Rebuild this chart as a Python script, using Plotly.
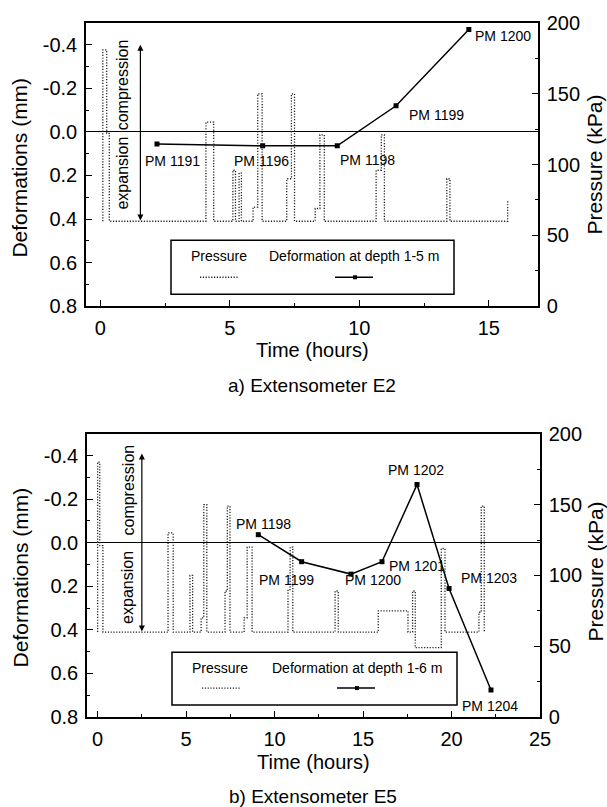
import plotly.graph_objects as go

# ---------------- data ----------------
# Top chart (Extensometer E2)
top_press_t = [0.1, 0.1, 0.25, 0.25, 0.35, 0.35, 4.08, 4.08, 4.38, 4.38,
               5.12, 5.12, 5.22, 5.22, 5.36, 5.36, 5.45, 5.45,
               5.9, 5.9, 6.08, 6.08, 6.25, 6.25,
               7.2, 7.2, 7.38, 7.38, 7.5, 7.5,
               8.3, 8.3, 8.48, 8.48, 8.65, 8.65,
               10.65, 10.65, 10.85, 10.85, 10.97, 10.97,
               13.38, 13.38, 13.5, 13.5, 15.73, 15.73]
top_press_p = [60, 181, 181, 122, 122, 60, 60, 130, 130, 60,
               60, 96, 96, 60, 60, 94, 94, 60,
               60, 70, 70, 150, 150, 60,
               60, 90, 90, 150, 150, 60,
               60, 69, 69, 121, 121, 60,
               60, 96, 96, 121, 121, 60,
               60, 90, 90, 60, 60, 75]
top_def_t = [2.19, 6.27, 9.15, 11.42, 14.23]
top_def_v = [0.055, 0.064, 0.064, -0.12, -0.47]
top_labels = ["PM 1191", "PM 1196", "PM 1198", "PM 1199", "PM 1200"]

# Bottom chart (Extensometer E5)
bot_press_t = [0.0, 0.0, 0.12, 0.12, 0.3, 0.3,
               3.98, 3.98, 4.27, 4.27,
               5.22, 5.22, 5.37, 5.37,
               5.85, 5.85, 6.0, 6.0, 6.17, 6.17,
               7.2, 7.2, 7.33, 7.33, 7.48, 7.48,
               8.28, 8.28, 8.45, 8.45, 8.73, 8.73,
               10.76, 10.76, 10.88, 10.88, 11.03, 11.03,
               13.42, 13.42, 13.6, 13.6,
               15.86, 15.86, 17.54, 17.54, 17.8, 17.8, 17.95, 17.95,
               19.42, 19.42, 19.63, 19.63,
               21.55, 21.55, 21.68, 21.68, 21.85, 21.85]
bot_press_p = [60, 180, 180, 121, 121, 60,
               60, 130, 130, 60,
               60, 100, 100, 60,
               60, 70, 70, 150, 150, 60,
               60, 89, 89, 149, 149, 60,
               60, 70, 70, 120, 120, 60,
               60, 90, 90, 120, 120, 60,
               60, 89, 89, 60,
               60, 75, 75, 60, 60, 89, 89, 49,
               49, 119, 119, 60,
               60, 74, 74, 149, 149, 60]
bot_def_t = [9.08, 11.53, 14.32, 16.07, 18.05, 19.86, 22.23]
bot_def_v = [-0.037, 0.087, 0.144, 0.087, -0.267, 0.21, 0.676]
bot_labels = ["PM 1198", "PM 1199", "PM 1200", "PM 1201", "PM 1202", "PM 1203", "PM 1204"]

def_tickvals = [-0.4, -0.2, 0.0, 0.2, 0.4, 0.6, 0.8]
def_ticktext = ["-0.4", "-0.2", "0.0", "0.2", "0.4", "0.6", "0.8"]
press_tickvals = [0, 50, 100, 150, 200]
top_xtickvals = [0, 5, 10, 15]
bot_xtickvals = [0, 5, 10, 15, 20, 25]

# ---------------- layout helpers ----------------
W, H = 607, 807
ML, MR, MT, MB = 86, 67, 21, 90
PW, PH = W - ML - MR, H - MT - MB


def PX(x):
    return (x - ML) / PW


def PY(y):
    return (H - MB - y) / PH


FONT = "Arial, Liberation Sans, Helvetica, sans-serif"
BLACK = "black"
DOT = "1.2px,1.6px"

fig = go.Figure()

press_line = dict(color="#222", width=1.3, dash=DOT)
def_line = dict(color=BLACK, width=1.5)
def_marker = dict(symbol="square", size=5, color=BLACK)

fig.add_trace(go.Scatter(x=top_press_t, y=top_press_p, xaxis="x", yaxis="y2",
                         mode="lines", line=press_line, showlegend=False))
fig.add_trace(go.Scatter(x=top_def_t, y=top_def_v, xaxis="x", yaxis="y",
                         mode="lines+markers", line=def_line, marker=def_marker,
                         showlegend=False))
fig.add_trace(go.Scatter(x=bot_press_t, y=bot_press_p, xaxis="x2", yaxis="y4",
                         mode="lines", line=press_line, showlegend=False))
fig.add_trace(go.Scatter(x=bot_def_t, y=bot_def_v, xaxis="x2", yaxis="y3",
                         mode="lines+markers", line=def_line, marker=def_marker,
                         showlegend=False))

tickfont = dict(family=FONT, size=20, color=BLACK)
common = dict(showgrid=False, ticks="inside", ticklen=6, tickwidth=1.2,
              tickcolor=BLACK, showline=True, linecolor=BLACK, linewidth=1.5,
              tickfont=tickfont, ticklabelstandoff=3)

top_dom = [PY(305), 1.0]
bot_dom = [0.0, PY(433)]

fig.update_layout(
    width=W, height=H,
    margin=dict(l=ML, r=MR, t=MT, b=MB),
    paper_bgcolor="white", plot_bgcolor="white",
    showlegend=False,
    xaxis=dict(domain=[0, PX(538)], anchor="y", range=[-0.55, 16.9],
               tickvals=top_xtickvals, mirror=True, zeroline=False,
               minor=dict(ticks="inside", ticklen=3, dtick=2.5, tick0=0, tickcolor=BLACK),
               **common),
    yaxis=dict(domain=top_dom, anchor="x", range=[0.8, -0.5],
               tickvals=def_tickvals, ticktext=def_ticktext,
               zeroline=True, zerolinecolor=BLACK, zerolinewidth=1.2,
               minor=dict(ticks="inside", ticklen=3, dtick=0.1, tick0=0, tickcolor=BLACK),
               **common),
    yaxis2=dict(overlaying="y", side="right", anchor="x", range=[0, 200],
                tickvals=press_tickvals, zeroline=False,
                minor=dict(ticks="inside", ticklen=3, dtick=25, tick0=0, tickcolor=BLACK),
                **common),
    xaxis2=dict(domain=[PX(87), 1.0], anchor="y3", range=[-0.6, 25],
                tickvals=bot_xtickvals, mirror=True, zeroline=False,
                minor=dict(ticks="inside", ticklen=3, dtick=2.5, tick0=0, tickcolor=BLACK),
                **common),
    yaxis3=dict(domain=bot_dom, anchor="x2", range=[0.8, -0.5],
                tickvals=def_tickvals, ticktext=def_ticktext,
                zeroline=True, zerolinecolor=BLACK, zerolinewidth=1.2,
                minor=dict(ticks="inside", ticklen=3, dtick=0.1, tick0=0, tickcolor=BLACK),
                **common),
    yaxis4=dict(overlaying="y3", side="right", anchor="x2", range=[0, 200],
                tickvals=press_tickvals, zeroline=False,
                minor=dict(ticks="inside", ticklen=3, dtick=25, tick0=0, tickcolor=BLACK),
                **common),
)

annotations = []
shapes = []


def txt(x, y, s, size, angle=0, xref="paper", yref="paper", **kw):
    annotations.append(dict(x=x, y=y, text=s, xref=xref, yref=yref, showarrow=False,
                            textangle=angle, xanchor="center", yanchor="middle",
                            font=dict(family=FONT, size=size, color=BLACK), **kw))


# axis titles and captions
txt(PX(20), PY(166), "Deformations (mm)", 21, -90)
txt(PX(595), PY(163), "Pressure (kPa)", 21, -90)
txt(PX(312), PY(349), "Time (hours)", 20)
txt(PX(312), PY(385), "a) Extensometer E2", 19)

txt(PX(20), PY(577), "Deformations (mm)", 21, -90)
txt(PX(595), PY(571), "Pressure (kPa)", 21, -90)
txt(PX(313), PY(762), "Time (hours)", 20)
txt(PX(313), PY(797), "b) Extensometer E5", 19)

# point labels (offsets in px)
top_shift = [(16, -17), (-1, -15), (30, -14), (40, -9), (34, -6)]
for t, v, s, (dx, dy) in zip(top_def_t, top_def_v, top_labels, top_shift):
    txt(t, v, s, 14, xref="x", yref="y", xshift=dx, yshift=dy)
bot_shift = [(5, 11), (-15, -18), (22, -6), (35, -4), (-1, 15), (40, 10), (-1, -16)]
for t, v, s, (dx, dy) in zip(bot_def_t, bot_def_v, bot_labels, bot_shift):
    txt(t, v, s, 14, xref="x2", yref="y3", xshift=dx, yshift=dy)

# compression / expansion arrows and texts
for xr, yr, ax_t, y_top, y_bot, tx, yc, ye in [
    ("x", "y", 1.55, -0.4, 0.413, 0.85, -0.215, 0.19),
    ("x2", "y3", 2.5, -0.41, 0.414, 1.72, -0.24, 0.207),
]:
    annotations.append(dict(x=ax_t, y=y_top, ax=ax_t, ay=y_bot, xref=xr, yref=yr,
                            axref=xr, ayref=yr, showarrow=True, arrowhead=2,
                            arrowside="end+start", arrowsize=1, arrowwidth=1.2,
                            arrowcolor=BLACK, text=""))
    txt(tx, yc, "compression", 16, -90, xref=xr, yref=yr)
    txt(tx, ye, "expansion", 16, -90, xref=xr, yref=yr)

# legend boxes (drawn)
for (bx0, by0, bx1, by1, ty, sy, ptx, dtx, dlab, dx0, dx1, mx, px0, px1) in [
    (171, 239, 454, 293, 255, 276, 219, 354, "Deformation at depth 1-5 m", 335, 373, 355, 200, 238),
    (172, 652, 457, 705, 668, 688, 220, 357, "Deformation at depth 1-6 m", 337, 375, 357, 202, 240),
]:
    shapes.append(dict(type="rect", xref="paper", yref="paper",
                       x0=PX(bx0), x1=PX(bx1), y0=PY(by1), y1=PY(by0),
                       line=dict(color=BLACK, width=1.5), fillcolor="white", layer="above"))
    txt(PX(ptx), PY(ty), "Pressure", 14)
    txt(PX(dtx), PY(ty), dlab, 14)
    shapes.append(dict(type="line", xref="paper", yref="paper",
                       x0=PX(px0), x1=PX(px1), y0=PY(sy), y1=PY(sy),
                       line=dict(color="#222", width=1.3, dash=DOT), layer="above"))
    shapes.append(dict(type="line", xref="paper", yref="paper",
                       x0=PX(dx0), x1=PX(dx1), y0=PY(sy), y1=PY(sy),
                       line=dict(color=BLACK, width=1.5), layer="above"))
    shapes.append(dict(type="rect", xref="paper", yref="paper",
                       x0=PX(mx - 2), x1=PX(mx + 2), y0=PY(sy + 2), y1=PY(sy - 2),
                       line=dict(color=BLACK, width=0), fillcolor=BLACK, layer="above"))

fig.update_layout(annotations=annotations, shapes=shapes)

fig.write_html("out.html")
